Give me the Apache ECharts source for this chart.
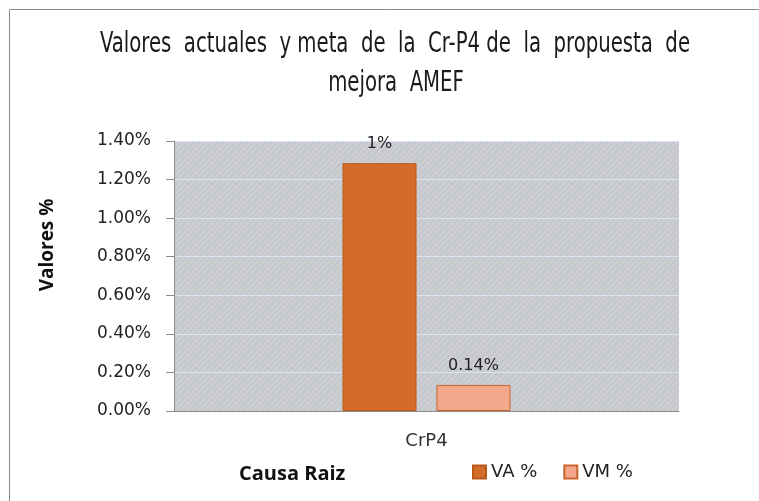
<!DOCTYPE html>
<html><head><meta charset="utf-8">
<script src="https://cdn.jsdelivr.net/npm/echarts@6/dist/echarts.min.js"></script>
<style>html,body{margin:0;padding:0;background:#fff}#c{width:759px;height:501px}</style>
</head><body><div id="c"></div>
<script>
const titleLines = ['Valores  actuales  y meta  de  la  Cr-P4 de  la  propuesta  de', 'mejora  AMEF'];
const categories = ['CrP4'];
const seriesNames = ['VA %', 'VM %'];
const vaValues = [1.285];
const vmValues = [0.135];
const vaLabels = ['1%'];
const vmLabels = ['0.14%'];
const yTicks = [0, 0.2, 0.4, 0.6, 0.8, 1.0, 1.2, 1.4];
const yAxisTitle = 'Valores %';
const xAxisTitle = 'Causa Raiz';

// hatch pattern for plot area
const pc = document.createElement('canvas');
pc.width = 6; pc.height = 6;
const ctx = pc.getContext('2d');
ctx.fillStyle = '#cecece';
ctx.fillRect(0, 0, 6, 6);
ctx.strokeStyle = '#bec5d1';
ctx.lineWidth = 1.5;
for (let k = -6; k <= 12; k += 6) {
  ctx.beginPath(); ctx.moveTo(k, 6); ctx.lineTo(k + 6, 0); ctx.stroke();
}

// condensed title: measure and squeeze horizontally
const titleFont = '28px "DejaVu Sans Condensed", "DejaVu Sans", sans-serif';
const mc = document.createElement('canvas').getContext('2d');
mc.font = titleFont;
const titleScale = 590 / mc.measureText(titleLines[0]).width;

const chart = echarts.init(document.getElementById('c'), null, {renderer: 'canvas'});
chart.setOption({
  animation: false,
  backgroundColor: '#fff',
  graphic: [
    {type: 'rect', shape: {x: 9.5, y: 9.5, width: 800, height: 600}, style: {fill: 'none', stroke: '#8a8a8a', lineWidth: 1}, silent: true},
    {type: 'text', x: 395, y: 45, scaleX: titleScale, style: {x: 0, y: 0, text: titleLines[0], font: titleFont, fill: '#1a1a1a', align: 'center', verticalAlign: 'middle'}},
    {type: 'text', x: 396, y: 84, scaleX: titleScale, style: {x: 0, y: 0, text: titleLines[1], font: titleFont, fill: '#1a1a1a', align: 'center', verticalAlign: 'middle'}},
    {type: 'text', x: 48, y: 245, rotation: Math.PI / 2, style: {x: 0, y: 0, text: yAxisTitle, font: 'bold 19px "Open Sans", sans-serif', fill: '#111', align: 'center', verticalAlign: 'middle'}},
    {type: 'text', left: 239, top: 464, style: {text: xAxisTitle, font: 'bold 20px "Open Sans", sans-serif', fill: '#111'}}
  ],
  legend: {
    data: seriesNames, left: 467, top: 458, itemWidth: 13, itemHeight: 13, itemGap: 26, icon: 'rect',
    textStyle: {fontFamily: 'DejaVu Sans, sans-serif', fontSize: 18, color: '#222'}
  },
  grid: {left: 174, top: 141, width: 505, height: 270, show: true, borderWidth: 0,
    backgroundColor: {image: pc, repeat: 'repeat'}},
  xAxis: {
    type: 'category', data: categories,
    axisLine: {lineStyle: {color: '#8c8c8c'}}, axisTick: {show: false},
    axisLabel: {margin: 21, fontFamily: 'DejaVu Sans, sans-serif', fontSize: 18, color: '#333'}
  },
  yAxis: {
    type: 'value', min: 0, max: 1.4, interval: 0.2,
    axisLine: {show: true, lineStyle: {color: '#8c8c8c'}},
    axisTick: {show: true, length: 8, lineStyle: {color: '#8c8c8c'}},
    splitLine: {lineStyle: {color: '#d8e4f3', width: 1}},
    axisLabel: {margin: 23, fontFamily: 'DejaVu Sans, sans-serif', fontSize: 17, color: '#222',
      formatter: v => yTicks.includes(Math.round(v*10)/10) ? v.toFixed(2) + '%' : ''}
  },
  series: [
    {name: seriesNames[0], type: 'bar', data: vaValues, barWidth: 74, barGap: '27%',
     itemStyle: {color: '#d36c29', borderColor: '#b9581a', borderWidth: 1},
     label: {show: true, position: 'top', distance: 11, formatter: p => vaLabels[p.dataIndex],
       fontFamily: 'DejaVu Sans, sans-serif', fontSize: 16, color: '#222'}},
    {name: seriesNames[1], type: 'bar', data: vmValues, barWidth: 74,
     itemStyle: {color: '#f2a88a', borderColor: '#c9642a', borderWidth: 1},
     label: {show: true, position: 'top', distance: 11, formatter: p => vmLabels[p.dataIndex],
       fontFamily: 'DejaVu Sans, sans-serif', fontSize: 16, color: '#222'}}
  ]
});
</script></body></html>
